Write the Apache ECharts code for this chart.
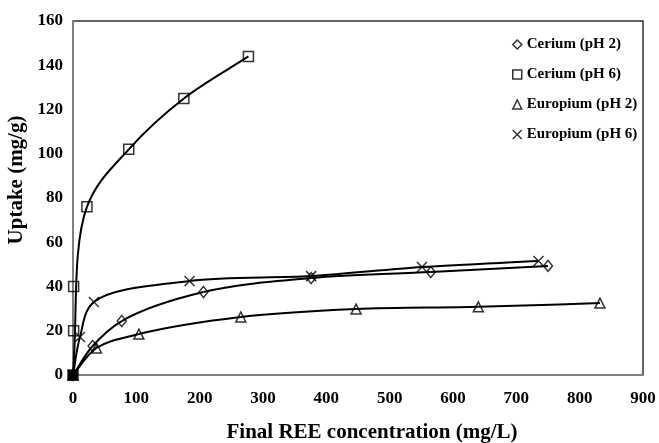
<!DOCTYPE html>
<html>
<head>
<meta charset="utf-8">
<script src="https://cdn.jsdelivr.net/npm/echarts@6/dist/echarts.min.js"></script>
<style>html,body{margin:0;padding:0;background:#fff}#c{width:659px;height:443px}</style>
</head>
<body>
<div id="c"></div>
<script>
const xTicks = [0, 100, 200, 300, 400, 500, 600, 700, 800, 900];
const yTicks = [0, 20, 40, 60, 80, 100, 120, 140, 160];

const seriesNames = ['Cerium (pH 2)', 'Cerium (pH 6)', 'Europium (pH 2)', 'Europium (pH 6)'];

const ceriumPH2_x = [0, 31, 77, 206, 376, 565, 750];
const ceriumPH2_y = [0, 13.1, 24.4, 37.5, 43.8, 46.5, 49.3];

const ceriumPH6_x = [0, 1, 1, 22, 88, 175, 277];
const ceriumPH6_y = [0, 20, 40, 76, 102, 125, 144];

const europiumPH2_x = [0, 37, 104, 265, 447, 640, 832];
const europiumPH2_y = [0, 12.2, 18.5, 26.2, 29.8, 30.8, 32.5];

const europiumPH6_x = [0, 11, 33, 184, 376, 551, 735];
const europiumPH6_y = [0, 17.2, 33, 42.5, 44.7, 48.8, 51.5];

const pairs = (xs, ys) => xs.map((x, i) => [x, ys[i]]);

const sets = [
  { name: seriesNames[0], data: pairs(ceriumPH2_x, ceriumPH2_y), skip: [], symbol: 'diamond', size: [9, 11] },
  { name: seriesNames[1], data: pairs(ceriumPH6_x, ceriumPH6_y), skip: [1, 2], symbol: 'rect', size: 10 },
  { name: seriesNames[2], data: pairs(europiumPH2_x, europiumPH2_y), skip: [], symbol: 'triangle', size: 10 },
  { name: seriesNames[3], data: pairs(europiumPH6_x, europiumPH6_y), skip: [], symbol: 'path://M0,0L10,10M10,0L0,10', size: 10 }
];

// centripetal Catmull-Rom segment (pixel space) -> cubic bezier control points
function crSegment(p0, p1, p2, p3) {
  const d = (a, b) => Math.pow(Math.hypot(b[0] - a[0], b[1] - a[1]), 0.5) || 1e-6;
  const d1 = d(p0, p1), d2 = d(p1, p2), d3 = d(p2, p3);
  const c1 = [0, 1].map(k => (d1 * d1 * p2[k] - d2 * d2 * p0[k] + (2 * d1 * d1 + 3 * d1 * d2 + d2 * d2) * p1[k]) / (3 * d1 * (d1 + d2)));
  const c2 = [0, 1].map(k => (d3 * d3 * p1[k] - d2 * d2 * p3[k] + (2 * d3 * d3 + 3 * d3 * d2 + d2 * d2) * p2[k]) / (3 * d3 * (d3 + d2)));
  return [c1, c2];
}

const font = '"Liberation Serif", "Times New Roman", serif';
const series = [];
sets.forEach(s => {
  const lineData = s.data.filter((d, i) => s.skip.indexOf(i) < 0);
  series.push({
    name: s.name + ' fit', type: 'custom', data: lineData, encode: { x: 0, y: 1 }, z: 2, silent: true,
    renderItem: (params, api) => {
      const i = params.dataIndex;
      if (i >= lineData.length - 1) return null;
      const pts = lineData.map(d => api.coord(d));
      const p1 = pts[i], p2 = pts[i + 1];
      const p0 = i > 0 ? pts[i - 1] : [2 * p1[0] - p2[0], 2 * p1[1] - p2[1]];
      const p3 = i + 2 < pts.length ? pts[i + 2] : [2 * p2[0] - p1[0], 2 * p2[1] - p1[1]];
      const [c1, c2] = crSegment(p0, p1, p2, p3);
      return {
        type: 'bezierCurve',
        shape: { x1: p1[0], y1: p1[1], x2: p2[0], y2: p2[1], cpx1: c1[0], cpy1: c1[1], cpx2: c2[0], cpy2: c2[1] },
        style: { stroke: '#000', lineWidth: 2, fill: null }
      };
    }
  });
});
sets.forEach(s => {
  series.push({
    name: s.name, type: 'scatter', data: s.data, symbol: s.symbol, symbolSize: s.size,
    itemStyle: {
      color: p => (p.data && p.data[0] === 0 && p.data[1] === 0) ? '#000' : 'rgba(255,255,255,0)',
      borderColor: '#000', borderWidth: 1.5
    }, z: 3
  });
});

const chart = echarts.init(document.getElementById('c'), null, { renderer: 'canvas' });
chart.setOption({
  animation: false,
  backgroundColor: '#fff',
  grid: {
    left: 73, right: 16, top: 21, bottom: 68, show: true, borderColor: '#333', borderWidth: 1.5,
    backgroundColor: 'transparent', containLabel: false, outerBoundsMode: 'none'
  },
  legend: {
    data: seriesNames.map(n => ({ name: n, itemStyle: { color: 'rgba(255,255,255,0)', borderColor: '#000', borderWidth: 1.5 } })),
    orient: 'vertical', left: 507, top: 32, itemWidth: 9, itemHeight: 9,
    itemGap: 15,
    textStyle: { fontFamily: font, fontWeight: 'bold', fontSize: 15, color: '#000' }
  },
  xAxis: {
    type: 'value', min: xTicks[0], max: xTicks[xTicks.length - 1], interval: 100,
    name: 'Final REE concentration (mg/L)', nameLocation: 'middle', nameGap: 47,
    nameTextStyle: { fontFamily: font, fontWeight: 'bold', fontSize: 21, color: '#000', padding: [0, 0, 0, 28] },
    axisLine: { show: true, lineStyle: { color: '#888', width: 1.5 } },
    axisTick: { show: false }, splitLine: { show: false },
    axisLabel: { fontFamily: font, fontWeight: 'bold', fontSize: 17, color: '#000', margin: 15 }
  },
  yAxis: {
    type: 'value', min: yTicks[0], max: yTicks[yTicks.length - 1], interval: 20,
    name: 'Uptake (mg/g)', nameLocation: 'middle', nameGap: 45, nameRotate: 90,
    nameTextStyle: { fontFamily: font, fontWeight: 'bold', fontSize: 21, color: '#000', padding: [0, 0, 0, 36] },
    axisLine: { show: true, lineStyle: { color: '#888', width: 1.5 } },
    axisTick: { show: false }, splitLine: { show: false },
    axisLabel: { fontFamily: font, fontWeight: 'bold', fontSize: 17, color: '#000', margin: 10 }
  },
  series: series
});
</script>
</body>
</html>
